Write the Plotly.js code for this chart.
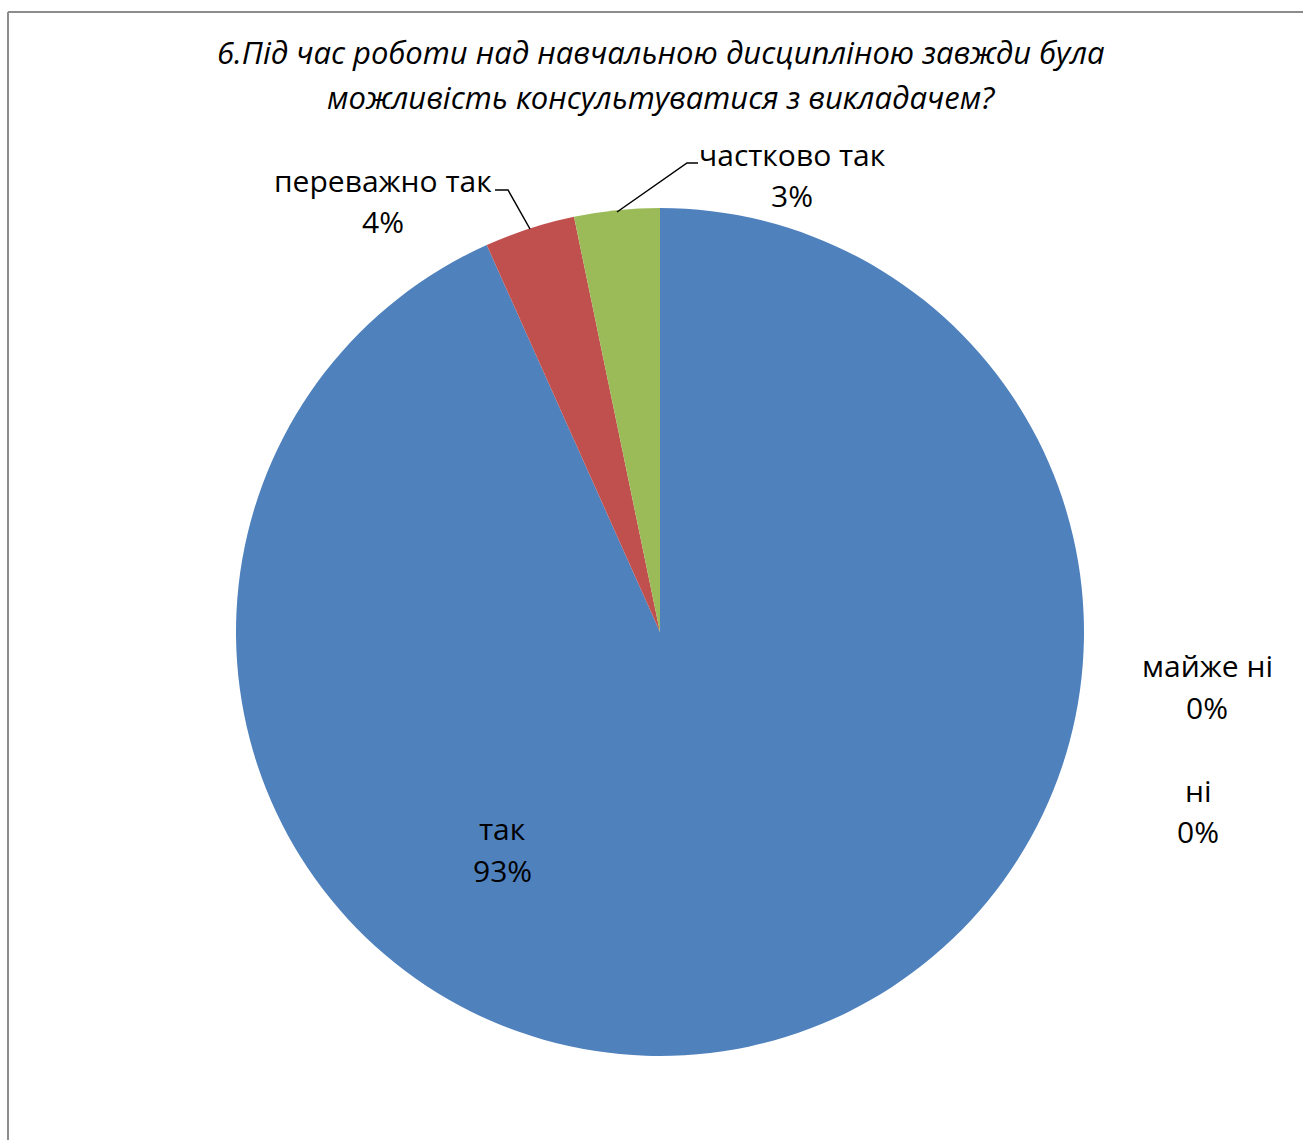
<!DOCTYPE html>
<html>
<head>
<meta charset="utf-8">
<script src="https://cdn.plot.ly/plotly-3.0.1.min.js"></script>
<style>html,body{margin:0;padding:0;background:#fff;}#chart{width:1303px;height:1140px;}</style>
</head>
<body>
<div id="chart"></div>
<script>
const categories = ["так", "переважно так", "частково так", "майже ні", "ні"];
const values = [93.3, 3.45, 3.25, 0, 0];
const labelsPct = ["93%", "4%", "3%", "0%", "0%"];
const colors = ["#4F81BD", "#C0504D", "#9BBB59", "#8064A2", "#4BACC6"];
const titleLines = ["6.Під час роботи над навчальною дисципліною завжди була", "можливість консультуватися з викладачем?"];

const W = 1303, H = 1140;
const px = x => x / W;
const py = y => 1 - y / H;
const FONT = "Open Sans, Noto Sans, sans-serif";
const LFS = 30;

// label positions (pixels): [x, yLine1, yLine2]
const labelPos = [[502, 828, 870], [383, 180, 221], [792, 155, 196], [1207, 665, 707], [1198, 790, 831]];

const annotations = [];
categories.forEach((c, i) => {
  annotations.push({xref: "paper", yref: "paper", x: px(labelPos[i][0]), y: py(labelPos[i][1]),
    xanchor: "center", yanchor: "middle", text: c, showarrow: false,
    font: {family: FONT, size: LFS, color: "#000"}});
  annotations.push({xref: "paper", yref: "paper", x: px(labelPos[i][0]), y: py(labelPos[i][2]),
    xanchor: "center", yanchor: "middle", text: labelsPct[i], showarrow: false,
    font: {family: FONT, size: LFS, color: "#000"}});
});
const titleY = [52, 97];
titleLines.forEach((t, i) => {
  annotations.push({xref: "paper", yref: "paper", x: px(661), y: py(titleY[i]),
    xanchor: "center", yanchor: "middle", text: "<i>" + t + "</i>", showarrow: false,
    font: {family: FONT, size: 31, color: "#000"}});
});

const shapes = [
  {type: "line", xref: "paper", yref: "paper", x0: px(8), y0: py(12), x1: px(1303), y1: py(12), line: {color: "#8c8c8c", width: 2}},
  {type: "line", xref: "paper", yref: "paper", x0: px(8), y0: py(12), x1: px(8), y1: py(1140), line: {color: "#8c8c8c", width: 2}},
  {type: "path", xref: "paper", yref: "paper",
   path: `M ${px(495)} ${py(190)} L ${px(508)} ${py(190)} L ${px(530)} ${py(229)}`,
   line: {color: "#000", width: 1.5}},
  {type: "path", xref: "paper", yref: "paper",
   path: `M ${px(698)} ${py(163)} L ${px(687)} ${py(163)} L ${px(617)} ${py(212)}`,
   line: {color: "#000", width: 1.5}}
];

const data = [{
  type: "pie",
  labels: categories,
  values: values,
  sort: false,
  direction: "clockwise",
  rotation: 0,
  marker: {colors: colors, line: {width: 0}},
  textinfo: "none",
  hoverinfo: "label+percent",
  showlegend: false,
  domain: {x: [px(236), px(1084)], y: [py(1056), py(208)]}
}];

const layout = {
  width: W, height: H,
  margin: {l: 0, r: 0, t: 0, b: 0},
  paper_bgcolor: "#fff",
  showlegend: false,
  annotations: annotations,
  shapes: shapes
};

Plotly.newPlot("chart", data, layout, {displayModeBar: false, staticPlot: true});
</script>
</body>
</html>
